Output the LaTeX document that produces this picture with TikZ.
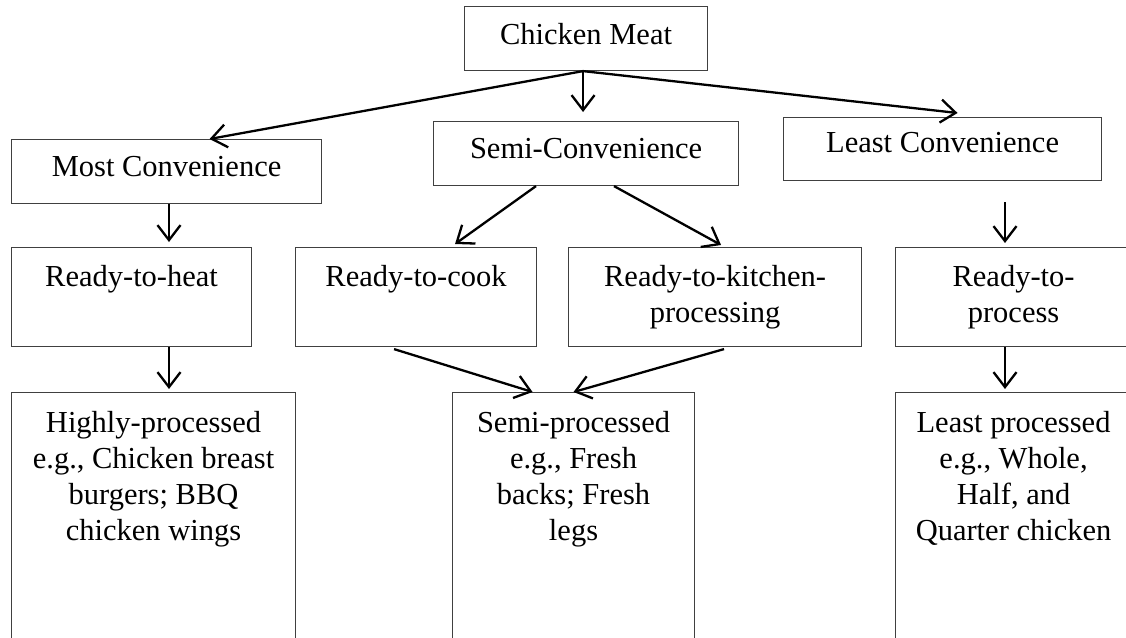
\documentclass[tikz,border=0pt]{standalone}
\usepackage{fontspec}
\setmainfont{Liberation Serif}
\usetikzlibrary{arrows.meta,calc}
\begin{document}
\begin{tikzpicture}[x=1pt,y=-1pt,
  box/.style={draw=black!75, line width=1.1pt, rectangle, inner sep=0pt, anchor=north west},
  lbl/.style={anchor=north, align=center, inner sep=0pt, font=\fontsize{30.5}{36}\selectfont},
  arr/.style={line width=2.3pt, -{Straight Barb[length=15pt,width=23pt,line width=2.3pt]}}]
\useasboundingbox (0,0) rectangle (1126,637);
\clip (0,0) rectangle (1126,637);
% boxes
\node[box, minimum width=243pt, minimum height=64pt] (cm) at (464,6) {};
\node[box, minimum width=310pt, minimum height=64pt] (mc) at (11,139) {};
\node[box, minimum width=305pt, minimum height=64pt] (sc) at (433,121) {};
\node[box, minimum width=318pt, minimum height=63pt] (lc) at (783,117) {};
\node[box, minimum width=240pt, minimum height=99pt] (rth) at (11,247) {};
\node[box, minimum width=241pt, minimum height=99pt] (rtc) at (295,247) {};
\node[box, minimum width=293pt, minimum height=99pt] (rtkp) at (568,247) {};
\node[box, minimum width=240pt, minimum height=99pt] (rtp) at (895,247) {};
\node[box, minimum width=284pt, minimum height=270pt] (hp) at (11,392) {};
\node[box, minimum width=242pt, minimum height=270pt] (sp) at (452,392) {};
\node[box, minimum width=240pt, minimum height=270pt] (lp) at (895,392) {};
% texts
\node[lbl] (cmt) at ([yshift=-17pt]cm.north) {Chicken Meat};
\node[lbl] (mct) at ([yshift=-17pt]mc.north) {Most Convenience};
\node[lbl] (sct) at ([yshift=-17pt]sc.north) {Semi-Convenience};
\node[lbl] (lct) at ([yshift=-15pt]lc.north) {Least Convenience};
\node[lbl] (rtht) at ([yshift=-18pt]rth.north) {Ready-to-heat};
\node[lbl] (rtct) at ([yshift=-18pt]rtc.north) {Ready-to-cook};
\node[lbl] (rtkpt) at ([yshift=-18pt]rtkp.north) {Ready-to-kitchen-\\processing};
\node[lbl] (rtpt) at ([xshift=-2pt,yshift=-18pt]rtp.north) {Ready-to-\\process};
\node[lbl] (hpt) at ([yshift=-19pt]hp.north) {Highly-processed\\e.g., Chicken breast\\burgers; BBQ\\chicken wings};
\node[lbl] (spt) at ([yshift=-19pt]sp.north) {Semi-processed\\e.g., Fresh\\backs; Fresh\\legs};
\node[lbl] (lpt) at ([xshift=-2pt,yshift=-19pt]lp.north) {Least processed\\e.g., Whole,\\Half, and\\Quarter chicken};
% connectors
\coordinate (src) at ([xshift=-3pt]cm.south);
\draw[arr] (src) -- ([xshift=43pt]mc.north);
\draw[arr] (src) -- ([xshift=-3pt,yshift=9pt]sc.north);
\draw[arr] (src) -- ([xshift=15pt,yshift=4pt]lc.north);
\draw[arr] ($(mc.south west)+(158,0)$) -- ($(rth.north west)+(158,-5)$);
\draw[arr] ($(sc.south west)+(103,0)$) -- ($(rtc.north)+(39,-3)$);
\draw[arr] ($(sc.south west)+(181,0)$) -- ($(rtkp.north)+(6,-2)$);
\draw[arr] ($(lc.south west)+(222,21)$) -- ($(rtp.north west)+(110,-4)$);
\draw[arr] ($(rth.south west)+(158,0)$) -- ($(hp.north west)+(158,-3)$);
\draw[arr] ($(rtc.south)+(-22,2)$) -- ($(sp.north)+(-41,0)$);
\draw[arr] ($(rtkp.south)+(9,2)$) -- ($(sp.north)+(0,0)$);
\draw[arr] ($(rtp.south west)+(110,0)$) -- ($(lp.north west)+(110,-3)$);
\end{tikzpicture}
\end{document}
